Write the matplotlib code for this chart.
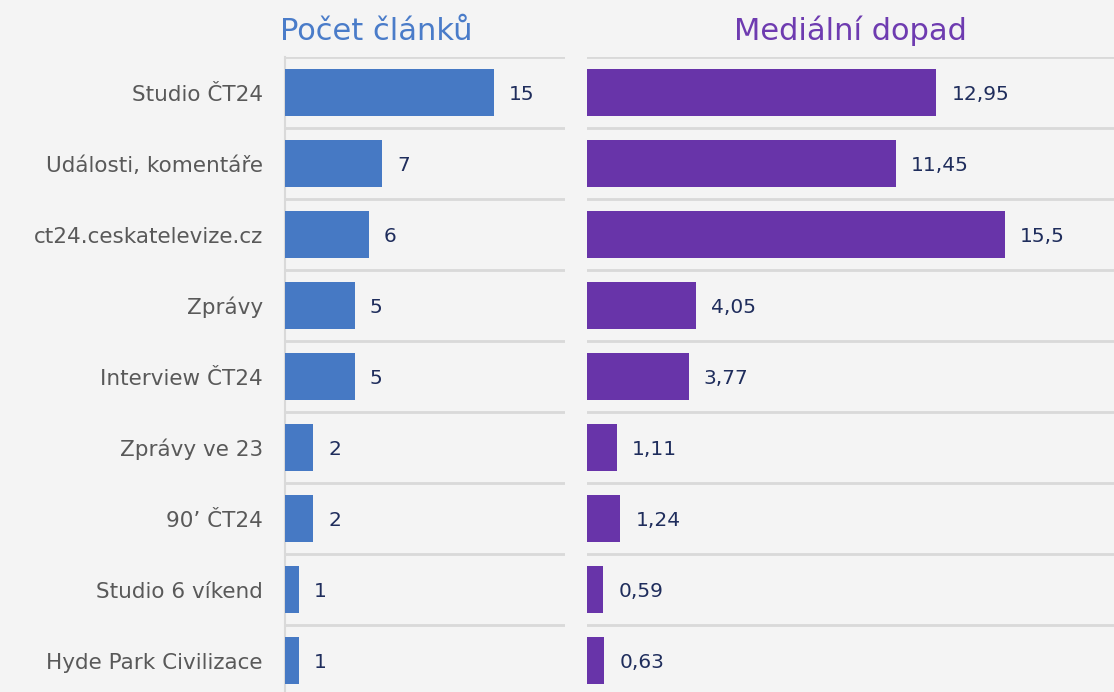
import numpy as np
import matplotlib.pyplot as plt

kategorie = ['Studio ČT24', 'Události, komentáře', 'ct24.ceskatelevize.cz', 'Zprávy',
             'Interview ČT24', 'Zprávy ve 23', '90’ ČT24', 'Studio 6 víkend',
             'Hyde Park Civilizace']
pocet_clanku = [15, 7, 6, 5, 5, 2, 2, 1, 1]
medialni_dopad = [12.95, 11.45, 15.5, 4.05, 3.77, 1.11, 1.24, 0.59, 0.63]

bg = '#f4f4f4'
plt.rcParams['font.family'] = ['DejaVu Sans']

fig = plt.figure(figsize=(11.14, 6.92), dpi=100, facecolor=bg)
ax1 = fig.add_axes([0.2558, -0.0058, 0.2513, 0.9234], facecolor=bg)
ax2 = fig.add_axes([0.5269, -0.0058, 0.4731, 0.9234], facecolor=bg)

y = np.arange(len(kategorie))


def panel(ax, vals, color, title, xmax, tcolor, fmt, yl, tx):
    ax.barh(y, vals, height=0.66, color=color, zorder=3)
    ax.set_xlim(0, xmax)
    ax.set_ylim(len(vals) - 0.5, -0.5)
    ax.set_yticks(np.arange(-0.5, len(vals), 1), minor=True)
    ax.grid(which='minor', axis='y', color='#d9d9d9', lw=2, zorder=0)
    ax.tick_params(which='both', length=0)
    ax.set_xticks([])
    for s in ['top', 'right', 'bottom']:
        ax.spines[s].set_visible(False)
    ax.spines['left'].set_color('#d9d9d9')
    ax.spines['left'].set_linewidth(1.5)
    if yl:
        ax.set_yticks(y)
        ax.set_yticklabels(kategorie, fontsize=15.5, color='#595959')
        ax.tick_params(axis='y', pad=16)
    else:
        ax.set_yticks([])
        ax.spines['left'].set_visible(False)
    for yi, v in zip(y, vals):
        ax.annotate(fmt(v), (v, yi), xytext=(11, -1.5), textcoords='offset points',
                    va='center', ha='left', fontsize=14.5, color='#1f2d5c')
    ax.set_title(title, fontsize=22, color=tcolor, pad=12, x=tx)


panel(ax1, pocet_clanku, '#4679c4', 'Počet článků', 20.1, '#4a7cc9',
      lambda v: str(v), True, 0.325)
panel(ax2, medialni_dopad, '#6834a9', 'Mediální dopad', 19.55, '#6e3bb0',
      lambda v: f'{v:g}'.replace('.', ','), False, 0.5)

fig.savefig('out.png', dpi=100, facecolor=bg)
